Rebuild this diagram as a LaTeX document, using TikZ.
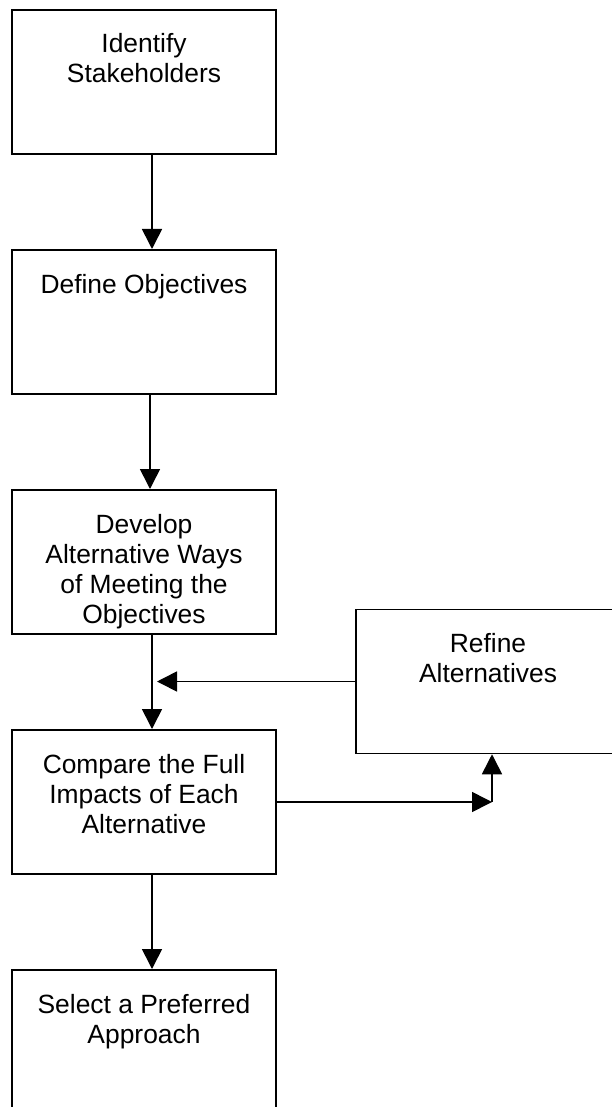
\documentclass[tikz,border=0pt]{standalone}
\usepackage{fontspec}
\setmainfont{Liberation Sans}
\usetikzlibrary{positioning,arrows.meta}

\newcommand{\boxtext}[1]{\parbox[c][144pt][t]{264pt}{\centering\rule{0pt}{43pt}#1}}

\begin{document}
\begin{tikzpicture}[
		x=1pt, y=1pt,
		every node/.style={draw,line width=2pt,inner sep=0pt,minimum width=264pt,minimum height=144pt,
			font=\fontsize{26.4pt}{30pt}\selectfont},
		thinbox/.style={line width=1.5pt},
		flow/.style={line width=1.6pt,-{Triangle[width=20pt,length=20pt]}}
		]
		\useasboundingbox (0,0) rectangle (611,-1107);
		\node (identify) at (144,-82) {\boxtext{Identify\\Stakeholders}};
		\node (define) [below=94pt of identify] {\boxtext{Define Objectives}};
		\node (develop) [below=94pt of define] {\boxtext{Develop\\Alternative Ways\\of Meeting the\\Objectives}};
		\node (compare) [below=94pt of develop] {\boxtext{Compare the Full\\Impacts of Each\\Alternative}};
		\node (select) [below=94pt of compare] {\boxtext{Select a Preferred\\Approach}};
		\node (refine) [thinbox] at (488,-681.5) {\boxtext{Refine\\Alternatives}};
		
		\coordinate (merge) at (157,-681.5);
		\coordinate (refx) at (492,0);
		\coordinate (turn) at (compare.east -| refx);
		
		\draw[flow] ([xshift=8pt]identify.south) -- ([xshift=8pt]define.north);
		\draw[flow] ([xshift=6pt]define.south) -- ([xshift=6pt]develop.north);
		\draw[flow] ([xshift=8pt]develop.south) -- ([xshift=8pt]compare.north);
		\draw[flow] ([xshift=8pt]compare.south) -- ([xshift=8pt]select.north);
		\draw[flow] (refine.west) -- (merge);
		\draw[flow] (compare.east) -- (turn);
		\draw[flow] (turn) -- (turn |- refine.south);
\end{tikzpicture}
\end{document}
